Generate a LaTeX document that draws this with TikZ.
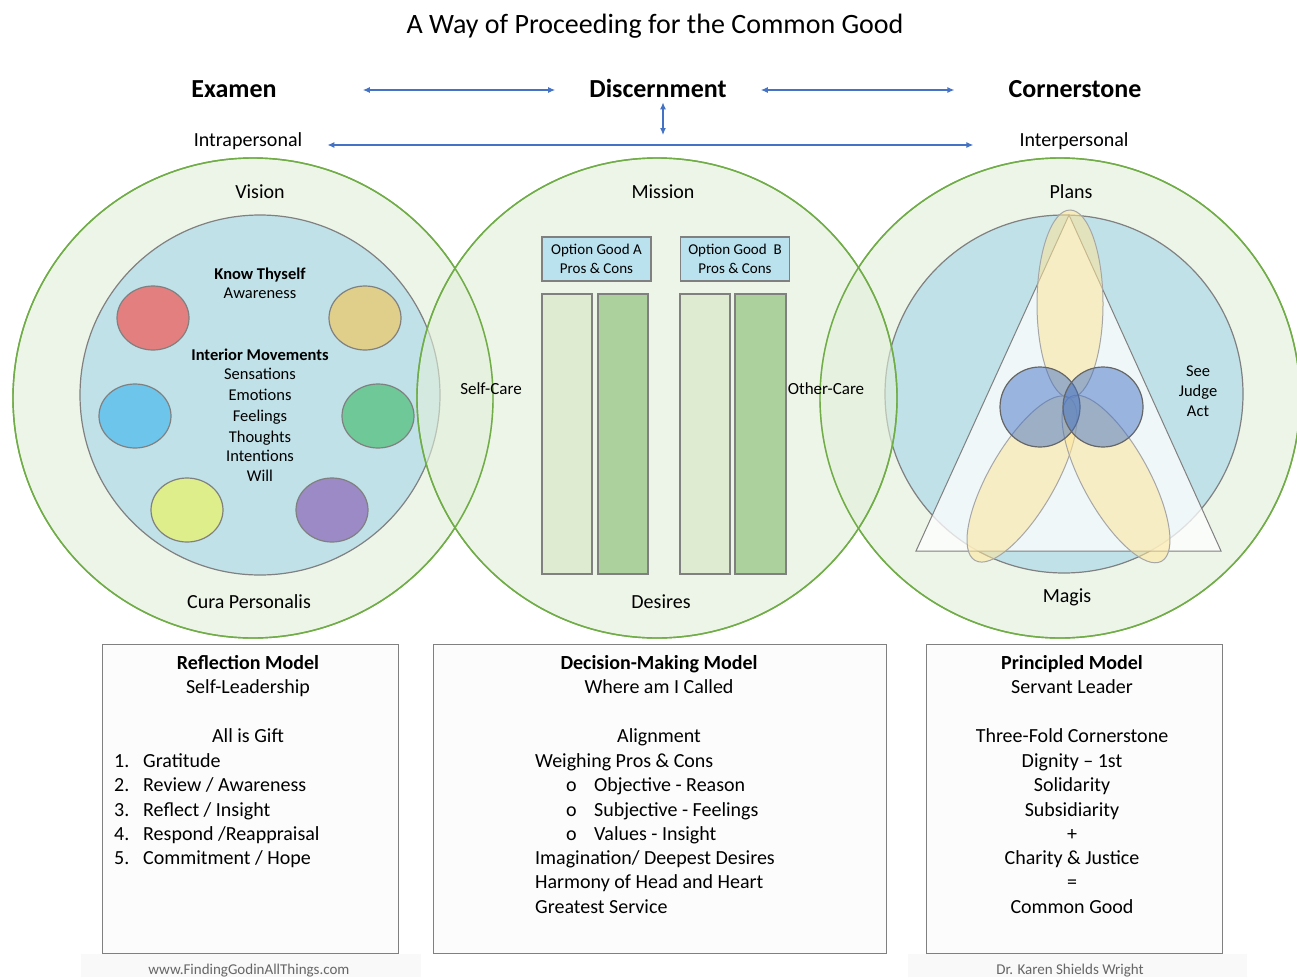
\documentclass[tikz,border=0pt]{standalone}
\usepackage{fontspec}
\setmainfont{Carlito}
\usetikzlibrary{arrows.meta}

\definecolor{ringline}{HTML}{70AD47}
\definecolor{ringfill}{HTML}{E2EFD9}
\definecolor{poolfill}{HTML}{B9DEE9}
\definecolor{linkblue}{HTML}{4472C4}
\definecolor{edgegray}{HTML}{808080}
\definecolor{moodred}{HTML}{E47F7F}
\definecolor{moodtan}{HTML}{DFCF8B}
\definecolor{moodblue}{HTML}{6DC5EC}
\definecolor{moodgreen}{HTML}{6FC898}
\definecolor{moodlime}{HTML}{DDEE8B}
\definecolor{moodviolet}{HTML}{9B8AC5}
\definecolor{optionfill}{HTML}{B9E1EE}
\definecolor{prosfill}{HTML}{DEEBD1}
\definecolor{consfill}{HTML}{ADD19D}
\definecolor{petalfill}{HTML}{FFE699}

\newcommand\px[1]{\fontsize{#1}{#1}\selectfont}

\tikzset{
  ring/.style={draw=ringline, line width=1.4pt, fill=ringfill, fill opacity=0.6},
  rimline/.style={draw=ringline, line width=1.4pt},
  pool/.style={draw=edgegray, line width=1.2pt, fill=poolfill, fill opacity=0.85},
  mood/.style={draw=edgegray, line width=1.2pt},
  bar/.style={draw=edgegray, line width=1.6pt},
  optionbox/.style={bar, fill=optionfill, anchor=center, minimum width=109pt, minimum height=44pt,
    align=center, font=\fontsize{15}{19}\selectfont},
  petal/.style={draw=edgegray!70, line width=1pt, fill=petalfill, fill opacity=0.55},
  lens/.style={draw=edgegray!80!black, line width=1.2pt, fill=linkblue, fill opacity=0.5},
  modelbox/.style={draw=edgegray, line width=1pt, fill=black!1},
  link/.style={linkblue, line width=1.2pt, {Latex[length=7pt,width=6pt]}-{Latex[length=7pt,width=6pt]}},
  every node/.style={inner sep=0pt, anchor=base},
  big/.style={font=\bfseries\px{26}},
  label20/.style={font=\px{20}},
  small/.style={font=\px{16.5}},
  smallbold/.style={font=\bfseries\px{16.5}},
  care/.style={font=\px{17}},
  head/.style={font=\bfseries\px{20}},
  body/.style={font=\px{20}},
  item/.style={body, anchor=base west},
  credit/.style={font=\px{15}, text=black!60},
}

\begin{document}
\begin{tikzpicture}[x=1pt, y=-1pt]
\useasboundingbox (0,0) rectangle (1297,977);
\fill[white] (0,0) rectangle (1297,977);

% heading row
\node[font=\px{28}] (title) at (655,33) {A Way of Proceeding for the Common Good};
\node[big] (examen) at (234,97) {Examen};
\node[big] (discern) at (658,97) {Discernment};
\node[big] (corner) at (1075,97) {Cornerstone};
\node[label20] (intra) at (248,146) {Intrapersonal};
\node[label20] (inter) at (1074,146) {Interpersonal};
\coordinate (hub) at (663,135);

\draw[link, shorten <=86pt, shorten >=34pt] ([yshift=7pt]examen.base east) -- ([yshift=7pt]discern.base west);
\draw[link, shorten <=34pt, shorten >=54pt] ([yshift=7pt]discern.base east) -- ([yshift=7pt]corner.base west);
\draw[link] ([shift={(5pt,-5pt)}]discern.south) -- (hub);
\draw[link, shorten <=25pt, shorten >=46pt] ([yshift=1pt]intra.base east) -- ([yshift=1pt]inter.base west);

% the three rings
\filldraw[ring] (253,398) circle (240);
\filldraw[pool] (260,395) circle (180);
\filldraw[ring] (1060,398) circle (240);
\filldraw[pool] (1064,394) circle (179);
\filldraw[ring] (657,398) circle (240);
\draw[rimline] (253,398) circle (240);
\draw[rimline] (1060,398) circle (240);
\draw[rimline] (657,398) circle (240);

% left ring: moods
\filldraw[mood, fill=moodred] (153,318) ellipse [x radius=36, y radius=32];
\filldraw[mood, fill=moodtan] (365,318) ellipse [x radius=36, y radius=32];
\filldraw[mood, fill=moodblue] (135,416) ellipse [x radius=36, y radius=32];
\filldraw[mood, fill=moodgreen] (378,416) ellipse [x radius=36, y radius=32];
\filldraw[mood, fill=moodlime] (187,510) ellipse [x radius=36, y radius=32];
\filldraw[mood, fill=moodviolet] (332,510) ellipse [x radius=36, y radius=32];

\node[label20] (vision) at (260,198) {Vision};
\node[label20] (cura) at (249,608) {Cura Personalis};
\node[smallbold] (know) at (260,279) {Know Thyself};
\node[small] (aware) at (260,298) {Awareness};
\node[smallbold] (interior) at (260,360) {Interior Movements};
\node[small] (sens) at (260,379) {Sensations};
\node[small] (emot) at (260,400) {Emotions};
\node[small] (feel) at (260,421) {Feelings};
\node[small] (thought) at (260,442) {Thoughts};
\node[small] (intent) at (260,461) {Intentions};
\node[small] (will) at (260,481) {Will};

% middle ring: options
\node[label20] (mission) at (663,198) {Mission};
\node[label20] (desires) at (661,608) {Desires};
\node[optionbox] (optA) at (596.5,259) {Option Good A\\Pros \& Cons};
\node[optionbox] (optB) at (735,259) {Option Good\ \ B\\Pros \& Cons};
\filldraw[bar, fill=prosfill] (542,294) rectangle (592,574);
\filldraw[bar, fill=consfill] (598,294) rectangle (648,574);
\filldraw[bar, fill=prosfill] (680,294) rectangle (730,574);
\filldraw[bar, fill=consfill] (735,294) rectangle (786,574);
\node[care] (selfcare) at (491,394) {Self-Care};
\node[care] (othercare) at (826,394) {Other-Care};

% right ring: triangle, petals, lenses
\filldraw[draw=edgegray, line width=1pt, fill=white, fill opacity=0.75] (1069,215) -- (916,551) -- (1221,551) -- cycle;
\filldraw[petal] (1070,304) ellipse [x radius=33, y radius=94];
\filldraw[petal, rotate around={-30:(1022,479)}] (1022,479) ellipse [x radius=33, y radius=94];
\filldraw[petal, rotate around={29:(1116,479)}] (1116,479) ellipse [x radius=33, y radius=94];
\filldraw[lens] (1040,407) circle (40);
\filldraw[lens] (1103,407) circle (40);
\node[label20] (plans) at (1071,198) {Plans};
\node[label20] (magis) at (1067,602) {Magis};
\node[small] (see) at (1198,376) {See};
\node[small] (judge) at (1198,396) {Judge};
\node[small] (act) at (1198,416) {Act};

% models
\filldraw[modelbox] (102,644) rectangle (398,953);
\filldraw[modelbox] (433,644) rectangle (886,953);
\filldraw[modelbox] (926,644) rectangle (1222,953);

\node[head] (reflect) at (248,669) {Reflection Model};
\node[body] (selflead) at (248,693) {Self-Leadership};
\node[body] (gift) at (248,742) {All is Gift};
\node[item] (step1) at (114,767) {\makebox[29pt][l]{1.}Gratitude};
\node[item] (step2) at (114,791) {\makebox[29pt][l]{2.}Review / Awareness};
\node[item] (step3) at (114,816) {\makebox[29pt][l]{3.}Reflect / Insight};
\node[item] (step4) at (114,840) {\makebox[29pt][l]{4.}Respond /Reappraisal};
\node[item] (step5) at (114,864) {\makebox[29pt][l]{5.}Commitment / Hope};

\node[head] (decide) at (659,669) {Decision-Making Model};
\node[body] (called) at (659,693) {Where am I Called};
\node[body] (align) at (659,742) {Alignment};
\node[item] (weigh) at (535,767) {Weighing Pros \& Cons};
\node[item] (objective) at (566,791) {\makebox[28pt][l]{o}Objective - Reason};
\node[item] (subjective) at (566,816) {\makebox[28pt][l]{o}Subjective - Feelings};
\node[item] (values) at (566,840) {\makebox[28pt][l]{o}Values - Insight};
\node[item] (imagine) at (535,864) {Imagination/ Deepest Desires};
\node[item] (harmony) at (535,888) {Harmony of Head and Heart};
\node[item] (service) at (535,913) {Greatest Service};

\node[head] (principle) at (1072,669) {Principled Model};
\node[body] (servant) at (1072,693) {Servant Leader};
\node[body] (threefold) at (1072,742) {Three-Fold Cornerstone};
\node[body] (dignity) at (1072,767) {Dignity -- 1st};
\node[body] (solid) at (1072,791) {Solidarity};
\node[body] (subsid) at (1072,816) {Subsidiarity};
\node[body] (plus) at (1072,840) {+};
\node[body] (charity) at (1072,864) {Charity \& Justice};
\node[body] (equals) at (1072,888) {=};
\node[body] (common) at (1072,913) {Common Good};

% footer
\fill[black!2.5] (81,954) rectangle (421,977);
\fill[black!2.5] (908,954) rectangle (1247,977);
\node[credit] (site) at (249,974) {www.FindingGodinAllThings.com};
\node[credit] (author) at (1070,974) {Dr. Karen Shields Wright};
\end{tikzpicture}
\end{document}
